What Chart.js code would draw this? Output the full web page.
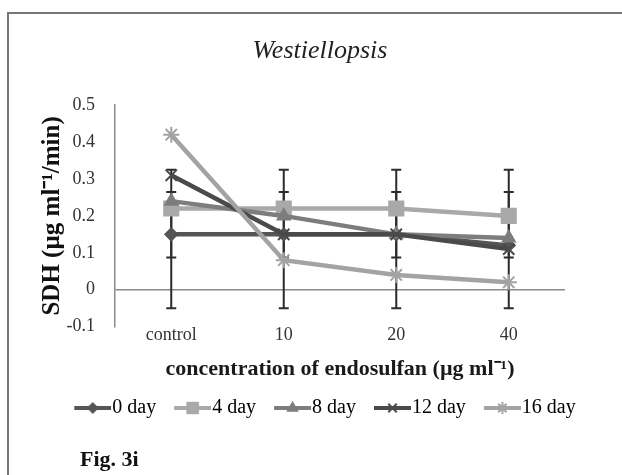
<!DOCTYPE html>
<html>
<head>
<meta charset="utf-8">
<script src="https://cdn.jsdelivr.net/npm/chart.js@4.4.1/dist/chart.umd.min.js"></script>
<style>
  html, body { margin: 0; padding: 0; background: #fff; }
  body { width: 622px; height: 475px; position: relative; overflow: hidden; }
  #frame { position: absolute; left: 7px; top: 12px; width: 660px; height: 520px;
           border-left: 2px solid #777; border-top: 2px solid #777; }
  #chart { position: absolute; left: 0; top: 0; }
  #fig { position: absolute; left: 80px; top: 446px; font: bold 22px "Liberation Serif", serif; color: #111; }
</style>
</head>
<body>
<div id="frame"></div>
<canvas id="chart" width="622" height="475"></canvas>
<div id="fig">Fig. 3i</div>
<script>
const categories = ['control', '10', '20', '40'];
const seriesNames = ['0 day', '4 day', '8 day', '12 day', '16 day'];
const day0 = [0.15, 0.15, 0.15, 0.12];
const day4 = [0.22, 0.22, 0.22, 0.20];
const day8 = [0.24, 0.20, 0.15, 0.14];
const day12 = [0.31, 0.15, 0.15, 0.11];
const day16 = [0.42, 0.08, 0.04, 0.02];

// error bars, same span at every concentration
const errOuterLow = [-0.05, -0.05, -0.05, -0.05];
const errOuterHigh = [0.325, 0.325, 0.325, 0.325];
const errInnerLow = [0.087, 0.087, 0.087, 0.087];
const errInnerHigh = [0.265, 0.265, 0.265, 0.265];

const yTicks = [-0.1, 0, 0.1, 0.2, 0.3, 0.4, 0.5];

const FONT = "'Liberation Serif', 'Times New Roman', serif";
const seriesData = [day0, day4, day8, day12, day16];
const colors = ['#555555', '#a9a9a9', '#7d7d7d', '#4a4a4a', '#a3a3a3'];
const markers = ['rectRot', 'rect', 'triangle', 'crossRot', 'star'];
const radii = [6, 10, 7, 8, 8];

Chart.defaults.font.family = FONT;

// legend swatch: short line with the series marker on it
function makeIcon(i) {
  const c = document.createElement('canvas');
  c.width = 56; c.height = 20;
  const g = c.getContext('2d');
  g.strokeStyle = colors[i];
  g.fillStyle = colors[i];
  g.lineWidth = 4;
  g.beginPath();
  g.moveTo(19, 10); g.lineTo(56, 10);
  g.stroke();
  g.lineWidth = 2;
  Chart.helpers.drawPoint(g, { pointStyle: markers[i], radius: radii[i] * 0.75, borderWidth: 2 }, 37.5, 10);
  return c;
}

const errorBars = {
  id: 'errorBars',
  beforeDatasetsDraw(chart) {
    const { ctx, scales: { x, y } } = chart;
    ctx.save();
    ctx.strokeStyle = '#2b2b2b';
    ctx.lineWidth = 2;
    categories.forEach((c, i) => {
      const px = x.getPixelForValue(i);
      [[errOuterLow[i], errOuterHigh[i]], [errInnerLow[i], errInnerHigh[i]]].forEach(([lo, hi]) => {
        const y0 = y.getPixelForValue(lo);
        const y1 = y.getPixelForValue(hi);
        ctx.beginPath();
        ctx.moveTo(px, y0); ctx.lineTo(px, y1);
        ctx.moveTo(px - 5, y0); ctx.lineTo(px + 5, y0);
        ctx.moveTo(px - 5, y1); ctx.lineTo(px + 5, y1);
        ctx.stroke();
      });
    });
    ctx.restore();
  }
};

new Chart(document.getElementById('chart'), {
  type: 'line',
  data: {
    labels: categories,
    datasets: seriesNames.map((name, i) => ({
      label: name,
      data: seriesData[i],
      borderColor: colors[i],
      backgroundColor: colors[i],
      borderWidth: 4.5,
      pointStyle: markers[i],
      pointRadius: radii[i],
      pointBorderWidth: 2,
      pointBackgroundColor: colors[i],
      pointBorderColor: colors[i],
      tension: 0,
      order: -i
    }))
  },
  options: {
    responsive: false,
    animation: false,
    layout: { padding: { left: 18, top: 0, right: 0, bottom: 47 } },
    plugins: {
      title: {
        display: true,
        text: 'Westiellopsis',
        color: '#222',
        font: { size: 26, style: 'italic', weight: 'normal' },
        padding: { top: 36, bottom: 38 }
      },
      legend: {
        position: 'bottom',
        labels: {
          usePointStyle: true,
          pointStyleWidth: 38,
          padding: 8,
          color: '#222',
          font: { size: 20 },
          generateLabels: () => seriesNames.map((name, i) => ({
            text: name,
            pointStyle: makeIcon(i),
            fillStyle: colors[i],
            strokeStyle: colors[i],
            lineWidth: 0,
            hidden: false,
            datasetIndex: i
          }))
        }
      },
      tooltip: { enabled: false }
    },
    scales: {
      x: {
        offset: true,
        grid: { display: false, drawTicks: false },
        border: { display: false },
        ticks: { padding: 0, color: '#333', font: { size: 18, lineHeight: 1 } },
        title: {
          display: true,
          text: 'concentration of endosulfan (µg ml⁻¹)',
          color: '#1a1a1a',
          font: { size: 22, weight: 'bold' },
          padding: { top: 12, bottom: 7 }
        }
      },
      y: {
        min: -0.1,
        max: 0.5,
        afterBuildTicks: s => { s.ticks = yTicks.map(v => ({ value: v })); },
        afterFit: s => { s.width = 97; },
        border: { display: true, color: '#8a8a8a', width: 1.5 },
        grid: {
          drawTicks: false,
          lineWidth: 1.5,
          color: c => (c.tick && c.tick.value === 0 ? '#8a8a8a' : 'rgba(0,0,0,0)')
        },
        ticks: {
          padding: 20,
          color: '#333',
          font: { size: 18 },
          callback: v => String(+Number(v).toFixed(1))
        },
        title: {
          display: true,
          text: 'SDH (µg ml⁻¹/min)',
          color: '#111',
          font: { size: 25, weight: 'bold' },
          padding: { top: 20, bottom: 0 }
        }
      },
      yRight: {
        type: 'linear',
        position: 'right',
        grid: { display: false },
        border: { display: false },
        ticks: { display: false },
        afterFit: s => { s.width = 57; }
      }
    }
  },
  plugins: [errorBars]
});
</script>
</body>
</html>
